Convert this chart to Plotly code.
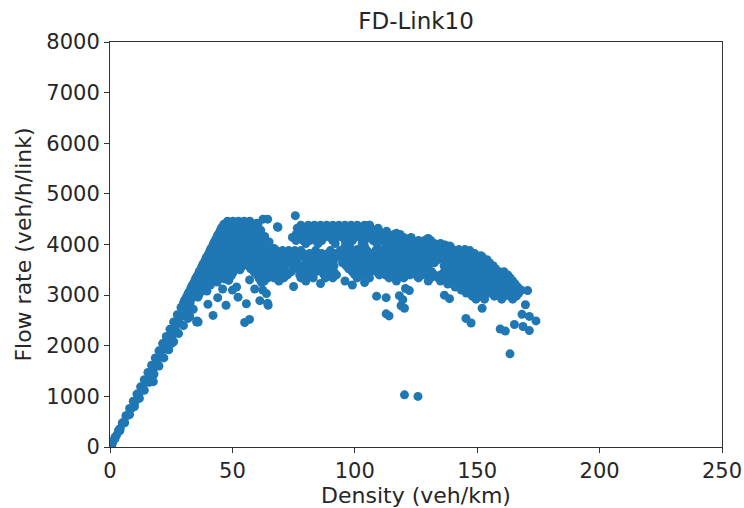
import plotly.graph_objects as go

# ---- data (density veh/km, flow veh/h/link) ----
free_density = [0.3, 0.8,
                0.5, 2, 3.5, 5, 6.5, 8, 9.5, 11, 12.5, 14, 15.5, 17, 18.5, 20, 21.5, 23, 24.5, 26,
                27.5, 29, 30.5, 32, 33.5, 35, 36.5, 38, 39.5, 41, 42.5, 44, 45.5,
                1.2, 2.7, 4.2, 5.7, 7.2, 8.7, 10.2, 11.7, 13.2, 14.7, 16.2, 17.7, 19.2, 20.7, 22.2,
                23.7, 25.2, 26.7, 28.2, 29.7, 31.2, 32.7, 34.2,
                2, 4, 6, 8, 10, 12, 14, 16, 18, 20, 22, 24, 26, 28, 30, 32, 34,
                17.7, 25.2, 31.9, 32.6, 35.4, 36]
free_flow = [15, 40,
             48, 190, 333, 475, 618, 760, 903, 1045, 1188, 1330, 1473, 1615, 1758, 1900, 2043, 2185,
             2328, 2470, 2613, 2755, 2898, 3040, 3183, 3325, 3468, 3610, 3753, 3895, 4038, 4180, 4323,
             104, 235, 365, 496, 626, 757, 887, 1018, 1148, 1279, 1409, 1540, 1670, 1801, 1931,
             2062, 2192, 2323, 2453, 2584, 2714, 2845, 2975,
             160, 320, 480, 640, 800, 960, 1120, 1280, 1440, 1600, 1760, 1920, 2080, 2240, 2400, 2560, 2720,
             1290, 2050, 2540, 2580, 2470, 2470]

# capacity cluster: (flow, densities observed along that flow level)
peak_rows = [
    (4460, [48, 50.2, 52.5, 54.8, 57.1]),
    (4400, [46.5, 48.8, 51.1, 53.4, 55.8, 58.2, 60.4]),
    (4340, [45.8, 48, 50.3, 52.6, 54.9, 57.3, 59.7]),
    (4280, [45.1, 47.4, 49.7, 52, 54.3, 56.6, 58.9, 61.6]),
    (4220, [44.5, 46.8, 49.1, 51.4, 53.7, 56, 58.3, 60.7]),
    (4160, [43.8, 46.1, 48.4, 50.7, 53, 55.3, 57.6, 60, 63.2]),
    (4100, [43.2, 45.5, 47.8, 50.1, 52.4, 54.7, 57, 59.4, 61.8]),
    (4040, [42.6, 44.9, 47.2, 49.5, 51.8, 54.1, 56.4, 58.8, 64.5]),
    (3980, [42, 44.3, 46.6, 48.9, 51.2, 53.5, 55.8, 58.1, 60.9]),
    (3920, [41.3, 43.6, 45.9, 48.2, 50.5, 52.8, 55.1, 57.4, 62.3, 67]),
    (3860, [40.7, 43, 45.3, 47.6, 49.9, 52.2, 54.5, 56.9]),
    (3800, [40.1, 42.4, 44.7, 47, 49.3, 51.6, 53.9, 56.2]),
    (3740, [39.4, 41.7, 44, 46.3, 48.6, 50.9, 53.2, 55.6]),
    (3680, [38.8, 41.1, 43.4, 45.7, 48, 50.3, 52.6, 55]),
    (3620, [38.2, 40.5, 42.8, 45.1, 47.4, 49.7, 52, 54.4]),
    (3560, [37.5, 39.8, 42.1, 44.4, 46.7, 49, 51.3, 53.7]),
    (3500, [36.9, 39.2, 41.5, 43.8, 46.1, 48.4, 50.7, 53.1]),
    (3440, [36.3, 38.6, 40.9, 43.2, 45.5, 47.8, 50.2]),
    (3380, [35.6, 37.9, 40.2, 42.5, 44.8, 47.1, 49.5]),
    (3320, [35, 37.3, 39.6, 44.4, 46.8]),
    (3260, [34.4, 36.7, 39, 41.4, 43.8]),
    (3200, [33.7, 36, 38.3, 41]),
    (3140, [33.1, 35.4, 37.8]),
    (3080, [32.5, 34.8, 37.1, 39.6]),
    (3020, [31.8, 34.1, 36.5]),
    (2960, [31.2, 33.5, 35.9]),
    (2900, [30.6, 32.9]),
    (2840, [30, 32.4]),
]

# upper congested branch
upper_rows = [
    (4380, [78, 81, 83.5, 86, 88.5, 91, 93.5, 96, 98.5, 101, 104, 106]),
    (4320, [76.5, 79, 81.5, 84, 86.5, 89, 91.5, 94, 96.5, 99, 101.5, 104, 106.5, 109.5]),
    (4260, [77.5, 80, 82.5, 85, 87.5, 90, 92.5, 95, 97.5, 100, 102.5, 105, 107.5, 110, 113]),
    (4200, [76, 78.5, 81, 83.5, 86, 88.5, 91, 93.5, 96, 98.5, 101, 103.5, 106, 108.5, 111, 113.5,
            116, 118.5]),
    (4140, [74.5, 77.5, 80, 82.5, 85, 87.5, 90, 92.5, 95, 97.5, 100, 102.5, 105, 107.5, 110, 112.5,
            115, 117.5, 120, 123]),
    (4080, [76, 79, 81.5, 84, 86.5, 91, 96, 99, 104, 107.5, 110, 113.5, 116, 118.5, 121, 123.5, 126,
            128.5, 131]),
    (4020, [80, 85, 92, 98, 103, 109, 112.5, 115, 117.5, 120, 122.5, 125, 127.5, 130, 132.5, 135]),
    (3960, [96, 104, 113, 117, 121, 124, 126.5, 129, 131.5, 134, 136.5, 139]),
    (3900, [101, 110, 119, 127.5, 130, 132.5, 135, 137.5, 140, 142.5, 145]),
]

# lower congested branch and its tail
lower_rows = [
    (3880, [58, 60.5, 63, 65.5, 68, 70.5, 73, 75.5, 78, 84, 90, 94, 97, 99.5, 102, 105, 108.5, 112,
            115, 118, 121, 124, 137, 142, 147]),
    (3820, [56.5, 59, 61.5, 64, 66.5, 69, 71.5, 74, 76.5, 79, 81.5, 84, 86.5, 89, 91.5, 94, 96.5, 99,
            101.5, 104, 106.5, 109, 111.5, 114, 116.5, 119, 121.5, 124, 126.5, 129, 131.5, 134,
            136.5, 139, 141.5, 144, 146.5, 149]),
    (3760, [57.5, 60, 62.5, 65, 67.5, 70, 72.5, 75, 77.5, 80, 82.5, 85, 87.5, 90, 92.5, 95, 97.5,
            100, 102.5, 105, 107.5, 110, 112.5, 115, 117.5, 120, 122.5, 125, 127.5, 130, 132.5, 135,
            137.5, 140, 142.5, 145, 147.5, 150, 152]),
    (3700, [56.5, 59, 61.5, 64, 66.5, 69, 71.5, 74, 76.5, 81.5, 84, 86.5, 89, 91.5, 96.5, 99, 101.5,
            104, 106.5, 109, 111.5, 114, 116.5, 119, 121.5, 124, 126.5, 129, 131.5, 134, 136.5, 139,
            141.5, 144, 146.5, 149, 151.5, 154]),
    (3640, [57.5, 60, 62.5, 65, 67.5, 70, 72.5, 75, 80, 82.5, 85, 87.5, 90, 95, 97.5, 100, 102.5,
            105, 107.5, 110, 112.5, 115, 117.5, 120, 122.5, 125, 127.5, 130, 132.5, 137.5, 140,
            142.5, 145, 147.5, 150, 152.5, 155]),
    (3580, [56.5, 59, 61.5, 64, 66.5, 69, 71.5, 76.5, 79, 81.5, 84, 86.5, 89, 91.5, 96.5, 99, 101.5,
            104, 106.5, 109, 111.5, 114, 116.5, 119, 121.5, 124, 126.5, 129, 136.5, 139, 141.5, 144,
            146.5, 149, 151.5, 154, 156.5]),
    (3520, [57.5, 60, 62.5, 65, 67.5, 70, 75, 77.5, 80, 82.5, 85, 87.5, 90, 97.5, 100, 102.5, 105,
            107.5, 110, 112.5, 115, 117.5, 120, 122.5, 125, 127.5, 130, 137.5, 140, 142.5, 145,
            147.5, 150, 152.5, 155, 157.5]),
    (3460, [59, 61.5, 64, 66.5, 69, 71.5, 74, 79, 81.5, 84, 86.5, 89, 91.5, 99, 101.5, 104, 106.5,
            109, 111.5, 114, 116.5, 119, 121.5, 124, 126.5, 129, 131.5, 136.5, 139, 141.5, 144,
            146.5, 149, 151.5, 154, 156.5, 159, 161]),
    (3400, [60, 62.5, 65, 67.5, 70, 72.5, 77.5, 80, 82.5, 87.5, 92.5, 100, 102.5, 105, 110, 112.5,
            115, 117.5, 122.5, 125, 127.5, 130, 132.5, 135, 140, 142.5, 145, 147.5, 150, 152.5,
            155, 157.5, 160, 162.5]),
    (3340, [62, 64.5, 67, 71, 78, 83, 88, 91, 101, 106, 114, 120, 126, 131, 134, 138, 141, 143.5,
            146, 148.5, 151, 153.5, 156, 158.5, 161, 163.5]),
    (3280, [63, 69, 80, 96, 117, 130, 135, 139.5, 142, 144.5, 147, 149.5, 152, 154.5, 157, 159.5,
            162, 164.5]),
    (3220, [138, 143, 145.5, 148, 150.5, 153, 155.5, 158, 160.5, 163, 165.5]),
    (3160, [141, 144, 146.5, 149, 151.5, 154, 156.5, 159, 161.5, 164, 166.5]),
    (3100, [143.5, 148, 150.5, 153, 158, 160.5, 163, 165.5, 168]),
    (3040, [145.5, 150, 152.5, 155, 159.5, 162, 164.5, 167]),
    (2980, [148, 151.5, 157, 161, 163.5, 166]),
    (2920, [149.5, 153, 160, 164.5]),
]

# scattered points
scatter_density = [42.1, 47.4, 55.7, 55, 52.3, 51.7, 61.9, 59.1, 64.6, 61.2, 63.9, 57, 62.4, 61,
                   48.5, 50, 46, 57, 59, 64.4, 40, 44, 35.6,
                   62.5, 68.6, 64.4, 68.4, 75.7, 60, 61, 63, 62, 65, 66,
                   86, 75, 108.9, 112.8, 112.8, 118.2, 118.9, 120.7, 136.6, 138.7, 122.3, 119.6,
                   120.3, 114, 147.5, 163.4, 161.5, 165.2, 171.3, 174, 169.7, 170.6, 168.3, 152,
                   159.4, 168.7, 171.3, 145.4, 120.3, 125.8, 99, 104,
                   130, 136.8, 117, 106, 129.7, 138.7, 145.4, 148.7, 151.5]
scatter_flow = [2600, 2800, 2830, 2460, 2960, 3160, 3250, 3120, 2800, 2890, 3030, 2520, 3100, 3320,
                3290, 3100, 3120, 3300, 3450, 2840, 2820, 2950, 2490,
                4500, 4340, 4500, 4350, 4570, 4420, 4200, 4100, 3980, 4050, 3920,
                3230, 3170, 2980, 2950, 2630, 2990, 2790, 3130, 3000, 2930, 3090, 2910,
                2740, 2590, 2450, 1840, 2290, 2420, 2300, 2490, 2810, 3090, 2620, 2740,
                2330, 2380, 2580, 2540, 1030, 1000, 3200, 3250,
                4120, 3990, 4220, 4380, 4110, 3970, 3830, 3800, 3780]

x_ticks = [0, 50, 100, 150, 200, 250]
y_ticks = [0, 1000, 2000, 3000, 4000, 5000, 6000, 7000, 8000]

# ---- assemble ----
xs = list(free_density) + list(scatter_density)
ys = list(free_flow) + list(scatter_flow)
for rows in (peak_rows, upper_rows, lower_rows):
    for f, ds in rows:
        xs.extend(ds)
        ys.extend([f] * len(ds))

font_family = "DejaVu Sans"
text_color = "#262626"
fig = go.Figure(go.Scatter(
    x=xs, y=ys, mode="markers",
    marker=dict(color="#1f77b4", size=9, line=dict(width=0)),
    hoverinfo="skip",
))

axis_common = dict(
    showline=True, mirror=True, linecolor="#333333", linewidth=1,
    ticks="outside", ticklen=5, tickwidth=1, tickcolor="#333333",
    showgrid=False, zeroline=False, automargin=False,
    tickfont=dict(family=font_family, size=21, color=text_color),
)

fig.update_layout(
    width=744, height=508,
    margin=dict(l=110, r=22, t=42, b=61),
    paper_bgcolor="white", plot_bgcolor="white",
    showlegend=False,
    title=dict(text="FD-Link10", x=0.5, xref="paper", xanchor="center",
               y=1 - 21 / 508, yref="container", yanchor="middle",
               font=dict(family=font_family, size=23, color=text_color)),
    xaxis=dict(range=[0, 250], tickvals=x_ticks,
               title=dict(text="Density (veh/km)", standoff=4,
                          font=dict(family=font_family, size=22, color=text_color)),
               **axis_common),
    yaxis=dict(range=[0, 8000], tickvals=y_ticks,
               title=dict(text="Flow rate (veh/h/link)", standoff=8,
                          font=dict(family=font_family, size=22, color=text_color)),
               **axis_common),
)

fig.write_html("out.html")
